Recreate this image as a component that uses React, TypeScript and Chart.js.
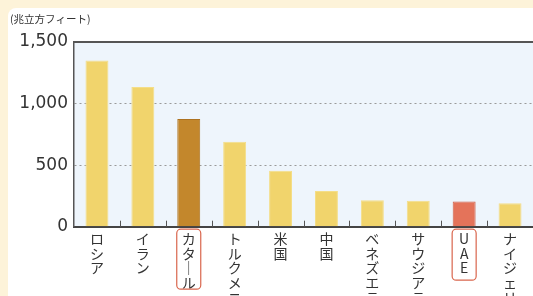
import React, { useEffect, useRef } from "react";
import { Chart, registerables } from "chart.js";

Chart.register(...registerables);

const categories: string[] = [
  "ロシア",
  "イラン",
  "カタール",
  "トルクメニスタン",
  "米国",
  "中国",
  "ベネズエラ",
  "サウジアラビア",
  "UAE",
  "ナイジェリア",
];
const reserves: number[] = [1350, 1135, 875, 690, 455, 290, 215, 210, 205, 190];
const yTicks: number[] = [0, 500, 1000, 1500];
const unitLabel = "(兆立方フィート)";
const highlighted: number[] = [2, 8];

const YELLOW = "#f1d46c";
const QATAR = "#c3872c";
const UAE = "#e4735a";

function verticalLabel(s: string): string[] {
  return Array.from(s).map((c) => (c === "ー" ? "｜" : c));
}

export default function App() {
  const ref = useRef<HTMLCanvasElement | null>(null);

  useEffect(() => {
    document.body.style.margin = "0";
    document.body.style.overflow = "hidden";
    const canvas = ref.current;
    if (!canvas) return;

    const colors = categories.map((_, i) => (i === 2 ? QATAR : i === 8 ? UAE : YELLOW));
    const borders = categories.map((_, i) => (i === 2 ? "#ad7220" : i === 8 ? "#cf5e46" : "#f4de88"));

    const decor = {
      id: "decor",
      beforeDraw(chart: any) {
        const { ctx, chartArea } = chart;
        ctx.save();
        ctx.fillStyle = "#eef5fc";
        ctx.fillRect(chartArea.left, chartArea.top, chartArea.right - chartArea.left, chartArea.bottom - chartArea.top);
        ctx.restore();
      },
      afterDraw(chart: any) {
        const { ctx, chartArea } = chart;
        const xs = chart.scales.x;
        ctx.save();
        // top border
        ctx.strokeStyle = "#555";
        ctx.lineWidth = 2;
        ctx.beginPath();
        ctx.moveTo(chartArea.left, chartArea.top);
        ctx.lineTo(chartArea.right, chartArea.top);
        ctx.stroke();
        // inner ticks at category boundaries
        ctx.lineWidth = 1;
        ctx.strokeStyle = "#555";
        const n = categories.length;
        const step = (xs.right - xs.left) / n;
        for (let i = 1; i < n; i++) {
          const x = Math.round(xs.left + i * step) + 0.5;
          ctx.beginPath();
          ctx.moveTo(x, chartArea.bottom - 6);
          ctx.lineTo(x, chartArea.bottom);
          ctx.stroke();
        }
        // highlight boxes around labels
        ctx.strokeStyle = "#d9664d";
        ctx.lineWidth = 1.2;
        highlighted.forEach((i) => {
          const cx = xs.getPixelForValue(i);
          const lines = verticalLabel(categories[i]).length;
          const h = i === 8 ? 51 : 60;
          const w = 24;
          const top = chartArea.bottom + 2.5;
          const r = 4;
          ctx.beginPath();
          ctx.roundRect(cx - w / 2, top, w, h + (lines - lines), r);
          ctx.stroke();
        });
        // unit label
        ctx.fillStyle = "#333";
        ctx.font = "10.5px 'Noto Sans CJK JP'";
        ctx.textBaseline = "middle";
        ctx.textAlign = "left";
        ctx.fillText(unitLabel, 2, 11);
        ctx.restore();
      },
    };

    const chart = new Chart(canvas, {
      type: "bar",
      data: {
        labels: categories.map(verticalLabel),
        datasets: [
          {
            data: reserves,
            backgroundColor: colors,
            borderColor: borders,
            borderWidth: 1,
            categoryPercentage: 1,
            barPercentage: 0.5,
          },
        ],
      },
      options: {
        animation: false,
        responsive: false,
        maintainAspectRatio: false,
        layout: { padding: { top: 34, left: 0, right: 0, bottom: 0 } },
        plugins: { legend: { display: false }, tooltip: { enabled: false } },
        scales: {
          x: {
            offset: true,
            grid: { display: false, drawTicks: false },
            border: { display: true, color: "#444", width: 2 },
            ticks: {
              autoSkip: false,
              maxRotation: 0,
              minRotation: 0,
              padding: 5,
              color: "#333",
              font: { family: "'Noto Sans CJK JP'", size: 14, lineHeight: 1.04 },
            },
            afterFit(scale: any) {
              scale.height = 69.3;
            },
          },
          y: {
            min: 0,
            max: 1500,
            afterBuildTicks(scale: any) {
              scale.ticks = yTicks.map((v) => ({ value: v }));
            },
            grid: {
              drawTicks: false,
              color: (c: any) => (c.tick && (c.tick.value === 0 || c.tick.value === 1500) ? "rgba(0,0,0,0)" : "#9a9a9a"),
              lineWidth: 1,
            },
            border: { display: true, color: "#555", width: 1.5, dash: [2, 3] },
            ticks: {
              padding: 6,
              color: "#333",
              font: { family: "'DejaVu Sans'", size: 17 },
              callback: (v: any) => Number(v).toLocaleString("en-US"),
            },
            afterFit(scale: any) {
              scale.width = 66;
            },
          },
        },
      },
      plugins: [decor],
    });

    return () => chart.destroy();
  }, []);

  return (
    <div style={{ position: "relative", width: 533, height: 296, background: "#fdf3d9", overflow: "hidden" }}>
      <div
        style={{
          position: "absolute",
          left: 8,
          top: 8,
          width: 525,
          height: 288,
          background: "#ffffff",
          borderTopLeftRadius: 8,
          overflow: "hidden",
        }}
      >
        <canvas ref={ref} width={525} height={288} style={{ display: "block" }} />
      </div>
    </div>
  );
}
